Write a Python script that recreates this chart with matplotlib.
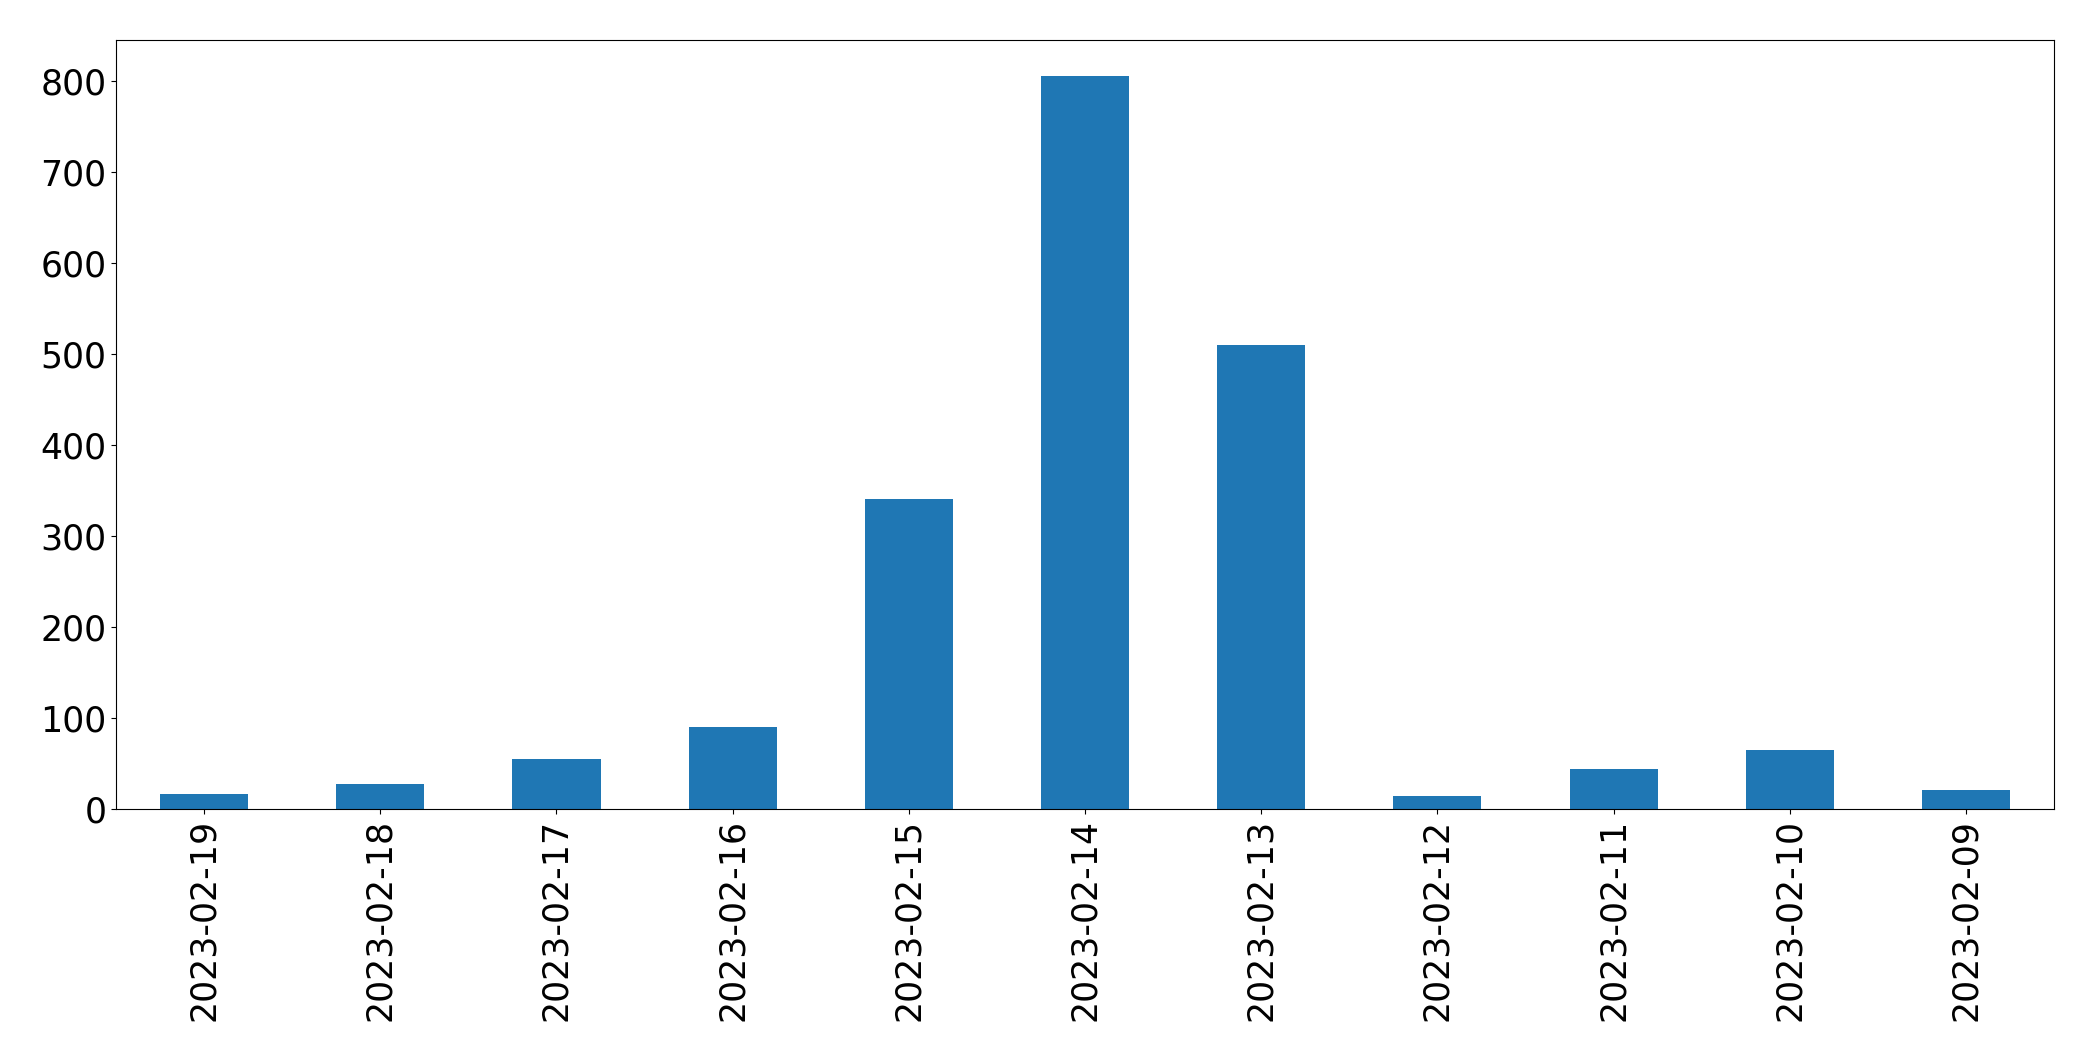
import matplotlib
matplotlib.use("Agg")
import matplotlib.pyplot as plt
import numpy as np

dates = ["2023-02-19", "2023-02-18", "2023-02-17", "2023-02-16", "2023-02-15",
         "2023-02-14", "2023-02-13", "2023-02-12", "2023-02-11", "2023-02-10",
         "2023-02-09"]
counts = [16, 28, 55, 90, 341, 806, 510, 14, 44, 65, 21]

fig = plt.figure(figsize=(20.93, 10.61), dpi=100)
ax = fig.add_axes([116/2093, 1 - 809/1061, (2054-116)/2093, (809-39.5)/1061])
x = np.arange(len(dates))
ax.bar(x, counts, width=0.5, color="#1f77b4")
ax.set_xlim(-0.5, len(dates) - 0.5)
ax.set_ylim(0, 846)
ax.set_xticks(x)
ax.set_xticklabels(dates, rotation=90)
ax.tick_params(axis="both", labelsize=25)
fig.savefig("out.png", dpi=100)
